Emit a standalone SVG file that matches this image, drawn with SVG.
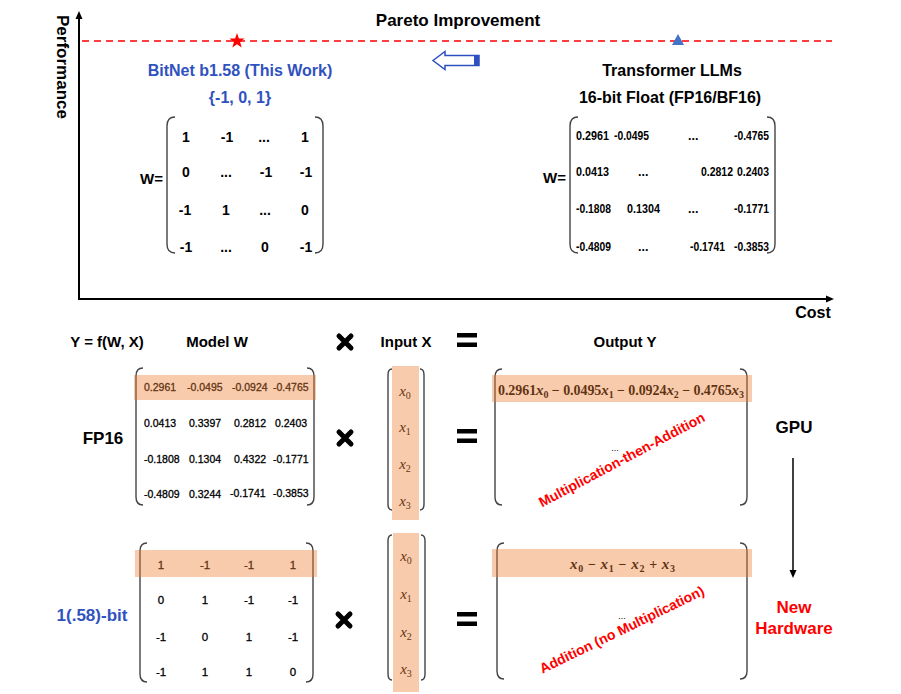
<svg xmlns="http://www.w3.org/2000/svg" width="901" height="694" viewBox="0 0 901 694">
<style>
text{font-family:"Liberation Sans",Arial,sans-serif;fill:#000}
.b{font-weight:bold}
.t15{font-size:15px;font-weight:bold}
.t17{font-size:17px;font-weight:bold}
.blue{fill:#3052C0}
.red{fill:#FF0000}
.m14{font-size:14px;font-weight:bold;text-anchor:middle}
.m11b{font-size:12.5px;font-weight:bold}
.e{text-anchor:end}
.m10{font-size:10.5px;stroke:#000;stroke-width:0.3}
.m11{font-size:11.5px;text-anchor:middle;stroke:#000;stroke-width:0.3}
.mi{font-family:"Liberation Serif","Times New Roman",serif;font-style:italic;font-size:15px}
.sub{font-family:"Liberation Serif","Times New Roman",serif;font-size:10px}
.math{font-family:"Liberation Serif","Times New Roman",serif;font-size:14px;font-weight:bold}
.br{fill:none;stroke:#444;stroke-width:1.4}
.hl{fill:#ED7D31;opacity:0.4}
.ax{stroke:#000;stroke-width:2;fill:none}
.dots{font-size:9px;text-anchor:middle}
</style>

<g id="connectors">
  <line class="ax" x1="79" y1="300" x2="79" y2="18"/>
  <polygon points="79,11 75.5,19 82.5,19" fill="#000"/>
  <line class="ax" x1="78" y1="299" x2="827" y2="299"/>
  <polygon points="834,299 826,295.5 826,302.5" fill="#000"/>
  <line x1="82" y1="41" x2="832" y2="41" stroke="#FF0000" stroke-width="1.6" stroke-dasharray="7 5"/>
  <polygon points="433,60.5 445,51.5 445,55.5 479,55.5 479,65.5 445,65.5 445,69.5" fill="#fff" stroke="#2E4FBF" stroke-width="1.5" stroke-linejoin="miter"/>
  <rect x="474" y="55.5" width="5" height="10" fill="#2E4FBF"/>
  <line x1="793" y1="458" x2="793" y2="571" stroke="#000" stroke-width="1.5"/>
  <polygon points="793,578 789.5,570 796.5,570" fill="#000"/>
</g>

<g id="axis-labels">
  <text class="b" font-size="17" transform="translate(57,67) rotate(90)" text-anchor="middle">Performance</text>
  <text class="b" font-size="16" x="813" y="318" text-anchor="middle">Cost</text>
  <text class="b" font-size="17" x="458" y="26" text-anchor="middle">Pareto Improvement</text>
</g>

<g id="bitnet-point">
  <polygon points="237,33 238.9,38.4 244.6,38.5 240.1,42 241.7,47.5 237,44.3 232.3,47.5 233.9,42 229.4,38.5 235.1,38.4" fill="#FF0000"/>
  <text class="b blue" font-size="16" x="240" y="76" text-anchor="middle">BitNet b1.58 (This Work)</text>
  <text class="b blue" font-size="16" x="240" y="103" text-anchor="middle">{-1, 0, 1}</text>
</g>

<g id="bitnet-matrix">
  <text class="b" font-size="15" x="163" y="184" text-anchor="end">W=</text>
  <path class="br" d="M175,117 Q167,117 167,126 L167,244 Q167,253 175,253"/>
  <path class="br" d="M315,117 Q323,117 323,126 L323,244 Q323,253 315,253"/>
  <text class="m14" x="186" y="142">1</text><text class="m14" x="227" y="142">-1</text><text class="m14" x="264" y="142">...</text><text class="m14" x="305" y="142">1</text>
  <text class="m14" x="186" y="177">0</text><text class="m14" x="226" y="177">...</text><text class="m14" x="266" y="177">-1</text><text class="m14" x="306" y="177">-1</text>
  <text class="m14" x="185" y="215">-1</text><text class="m14" x="226" y="215">1</text><text class="m14" x="265" y="215">...</text><text class="m14" x="305" y="215">0</text>
  <text class="m14" x="186" y="252">-1</text><text class="m14" x="226" y="252">...</text><text class="m14" x="265" y="252">0</text><text class="m14" x="306" y="252">-1</text>
</g>

<g id="transformer-point">
  <polygon points="678,34 684,45 672,45" fill="#4472C4"/>
  <text class="b" font-size="16" x="672" y="76" text-anchor="middle">Transformer LLMs</text>
  <text class="b" font-size="16" x="670" y="103" text-anchor="middle">16-bit Float (FP16/BF16)</text>
</g>

<g id="transformer-matrix">
  <text class="b" font-size="15" x="566" y="183" text-anchor="end">W=</text>
  <path class="br" d="M578,117 Q570,117 570,126 L570,244 Q570,253 578,253"/>
  <path class="br" d="M767,117 Q775,117 775,126 L775,244 Q775,253 767,253"/>
  <text class="m11b" x="576" y="140" textLength="33" lengthAdjust="spacingAndGlyphs">0.2961</text><text class="m11b" x="614" y="140" textLength="35" lengthAdjust="spacingAndGlyphs">-0.0495</text><text class="m11b" x="688" y="140">...</text><text class="m11b" x="734" y="140" textLength="35" lengthAdjust="spacingAndGlyphs">-0.4765</text>
  <text class="m11b" x="576" y="176" textLength="33" lengthAdjust="spacingAndGlyphs">0.0413</text><text class="m11b" x="638" y="176">...</text><text class="m11b" x="701" y="176" textLength="32" lengthAdjust="spacingAndGlyphs">0.2812</text><text class="m11b" x="737" y="176" textLength="32" lengthAdjust="spacingAndGlyphs">0.2403</text>
  <text class="m11b" x="576" y="213" textLength="35" lengthAdjust="spacingAndGlyphs">-0.1808</text><text class="m11b" x="627" y="213" textLength="33" lengthAdjust="spacingAndGlyphs">0.1304</text><text class="m11b" x="688" y="213">...</text><text class="m11b" x="734" y="213" textLength="35" lengthAdjust="spacingAndGlyphs">-0.1771</text>
  <text class="m11b" x="576" y="251" textLength="35" lengthAdjust="spacingAndGlyphs">-0.4809</text><text class="m11b" x="638" y="251">...</text><text class="m11b" x="690" y="251" textLength="35" lengthAdjust="spacingAndGlyphs">-0.1741</text><text class="m11b" x="734" y="251" textLength="35" lengthAdjust="spacingAndGlyphs">-0.3853</text>
</g>

<g id="headers">
  <text class="t15" x="107" y="347" text-anchor="middle">Y = f(W, X)</text>
  <text class="t15" x="217" y="347" text-anchor="middle">Model W</text>
  <path d="M339,336 L351,348 M351,336 L339,348" stroke="#000" stroke-width="5" stroke-linecap="round"/>
  <text class="t15" x="406" y="347" text-anchor="middle">Input X</text>
  <rect x="457" y="333" width="20" height="4.5" fill="#000"/><rect x="457" y="342.5" width="20" height="4.5" fill="#000"/>
  <text class="t15" x="625" y="347" text-anchor="middle">Output Y</text>
</g>

<g id="fp16-row">
  <text class="t17" x="103" y="444" text-anchor="middle">FP16</text>
  <path class="br" d="M143,368 Q136,368 136,376 L136,497 Q136,505 143,505"/>
  <path class="br" d="M307,368 Q314,368 314,376 L314,497 Q314,505 307,505"/>
  <text class="m10" x="144" y="391">0.2961</text><text class="m10" x="187" y="391">-0.0495</text><text class="m10" x="232" y="391">-0.0924</text><text class="m10" x="273" y="391">-0.4765</text>
  <text class="m10" x="144" y="427">0.0413</text><text class="m10" x="189" y="427">0.3397</text><text class="m10" x="234" y="427">0.2812</text><text class="m10" x="275" y="427">0.2403</text>
  <text class="m10" x="144" y="463">-0.1808</text><text class="m10" x="189" y="463">0.1304</text><text class="m10" x="234" y="463">0.4322</text><text class="m10" x="273" y="463">-0.1771</text>
  <text class="m10" x="144" y="498">-0.4809</text><text class="m10" x="189" y="498">0.3244</text><text class="m10" x="230" y="497">-0.1741</text><text class="m10" x="273" y="497">-0.3853</text>
  <rect class="hl" x="134" y="375" width="182" height="25"/>

  <path d="M339,432 L351,444 M351,432 L339,444" stroke="#000" stroke-width="5" stroke-linecap="round"/>

  <path class="br" d="M392,369 Q388,369 388,375 L388,504 Q388,510 392,510"/>
  <path class="br" d="M420,369 Q424,369 424,375 L424,504 Q424,510 420,510"/>
  <text x="405" y="396" text-anchor="middle"><tspan class="mi">x</tspan><tspan class="sub" dy="3">0</tspan></text>
  <text x="405" y="432" text-anchor="middle"><tspan class="mi">x</tspan><tspan class="sub" dy="3">1</tspan></text>
  <text x="405" y="469" text-anchor="middle"><tspan class="mi">x</tspan><tspan class="sub" dy="3">2</tspan></text>
  <text x="405" y="506" text-anchor="middle"><tspan class="mi">x</tspan><tspan class="sub" dy="3">3</tspan></text>
  <rect class="hl" x="392" y="366" width="27" height="154"/>

  <rect x="457" y="429" width="20" height="4.5" fill="#000"/><rect x="457" y="438.5" width="20" height="4.5" fill="#000"/>

  <path class="br" d="M502,369 Q495,369 495,377 L495,497 Q495,505 502,505"/>
  <path class="br" d="M740,369 Q747,369 747,377 L747,497 Q747,505 740,505"/>
  <text class="math" x="498" y="395" textLength="246" lengthAdjust="spacing">0.2961<tspan class="mi">x</tspan><tspan class="sub" dy="3">0</tspan><tspan dy="-3"> − 0.0495</tspan><tspan class="mi">x</tspan><tspan class="sub" dy="3">1</tspan><tspan dy="-3"> − 0.0924</tspan><tspan class="mi">x</tspan><tspan class="sub" dy="3">2</tspan><tspan dy="-3"> − 0.4765</tspan><tspan class="mi">x</tspan><tspan class="sub" dy="3">3</tspan></text>
  <rect class="hl" x="492" y="375" width="260" height="27"/>
  <text class="dots" x="615" y="451">...</text>
  <text class="b red" font-size="14" transform="translate(624,464) rotate(-28)" text-anchor="middle">Multiplication-then-Addition</text>

  <text class="t17" x="794" y="433" text-anchor="middle">GPU</text>
</g>

<g id="ternary-row">
  <text class="t17 blue" x="92" y="621" text-anchor="middle">1(.58)-bit</text>
  <path class="br" d="M147,543 Q140,543 140,551 L140,674 Q140,682 147,682"/>
  <path class="br" d="M306,543 Q313,543 313,551 L313,674 Q313,682 306,682"/>
  <text class="m11" x="161" y="569">1</text><text class="m11" x="205" y="569">-1</text><text class="m11" x="249" y="569">-1</text><text class="m11" x="293" y="569">1</text>
  <text class="m11" x="161" y="604">0</text><text class="m11" x="205" y="604">1</text><text class="m11" x="249" y="604">-1</text><text class="m11" x="293" y="604">-1</text>
  <text class="m11" x="161" y="641">-1</text><text class="m11" x="205" y="641">0</text><text class="m11" x="249" y="641">1</text><text class="m11" x="293" y="641">-1</text>
  <text class="m11" x="161" y="676">-1</text><text class="m11" x="205" y="676">1</text><text class="m11" x="249" y="676">1</text><text class="m11" x="293" y="676">0</text>
  <rect class="hl" x="135" y="550" width="182" height="27"/>

  <path d="M338,614 L350,626 M350,614 L338,626" stroke="#000" stroke-width="5" stroke-linecap="round"/>

  <path class="br" d="M392,535 Q388,535 388,541 L388,674 Q388,680 392,680"/>
  <path class="br" d="M421,535 Q425,535 425,541 L425,674 Q425,680 421,680"/>
  <text x="406" y="561" text-anchor="middle"><tspan class="mi">x</tspan><tspan class="sub" dy="3">0</tspan></text>
  <text x="406" y="599" text-anchor="middle"><tspan class="mi">x</tspan><tspan class="sub" dy="3">1</tspan></text>
  <text x="406" y="637" text-anchor="middle"><tspan class="mi">x</tspan><tspan class="sub" dy="3">2</tspan></text>
  <text x="406" y="674" text-anchor="middle"><tspan class="mi">x</tspan><tspan class="sub" dy="3">3</tspan></text>
  <rect class="hl" x="393" y="533" width="26" height="159"/>

  <rect x="457" y="612" width="20" height="4.5" fill="#000"/><rect x="457" y="621.5" width="20" height="4.5" fill="#000"/>

  <path class="br" d="M504,543 Q497,543 497,551 L497,671 Q497,679 504,679"/>
  <path class="br" d="M740,543 Q747,543 747,551 L747,671 Q747,679 740,679"/>
  <text class="math" x="570" y="569" textLength="105" lengthAdjust="spacing"><tspan class="mi">x</tspan><tspan class="sub" dy="3">0</tspan><tspan dy="-3"> − </tspan><tspan class="mi">x</tspan><tspan class="sub" dy="3">1</tspan><tspan dy="-3"> − </tspan><tspan class="mi">x</tspan><tspan class="sub" dy="3">2</tspan><tspan dy="-3"> + </tspan><tspan class="mi">x</tspan><tspan class="sub" dy="3">3</tspan></text>
  <rect class="hl" x="492" y="549" width="260" height="28"/>
  <text class="dots" x="622" y="619">...</text>
  <text class="b red" font-size="14" transform="translate(624,634) rotate(-26)" text-anchor="middle">Addition (no Multiplication)</text>

  <text class="t17 red" x="794" y="613" text-anchor="middle">New</text>
  <text class="t17 red" x="794" y="634" text-anchor="middle">Hardware</text>
</g>
</svg>
